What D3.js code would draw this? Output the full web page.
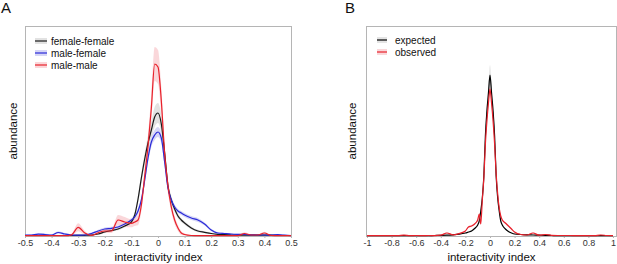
<!DOCTYPE html>
<html lang="en">
<head>
  <meta charset="UTF-8">
  <title>interactivity index - abundance</title>
  <script src="https://cdn.jsdelivr.net/npm/d3@7"></script>
  <style>
    body { margin: 0; background: #fff; }
    text { font-family: Arial, "Liberation Sans", sans-serif; fill: #111; }
    .tick text { font-size: 9px; fill: #333; }
    .tick line { stroke: #b5b5b5; }
    .frame { fill: none; stroke: #b5b5b5; stroke-width: 1px; }
    .line { fill: none; stroke-width: 1.2px; stroke-linejoin: round; }
    .axis-title { font-size: 11.5px; text-anchor: middle; }
    .legend text { font-size: 10px; }
    .panel-label { font-size: 15px; }
  </style>
</head>
<body>
  <svg width="617" height="264"></svg>
  <script>
    // panel A : x values (finer near the peak)
    var xA = [-0.5,-0.475,-0.45,-0.425,-0.4,-0.375,-0.35,-0.325,-0.3,-0.275,-0.25,-0.225,-0.2,-0.175,-0.15,-0.125,
              -0.1,-0.0875,-0.075,-0.0625,-0.05,-0.0375,-0.025,-0.0125,0,0.0125,0.025,0.0375,0.05,0.0625,0.075,0.0875,0.1,
              0.125,0.15,0.175,0.2,0.225,0.25,0.275,0.3,0.325,0.35,0.375,0.4,0.425,0.45,0.475,0.5];
    var femaleFemale = [0.5,0.5,0.5,0.5,0.5,0.5,0.5,0.5,0.6,0.7,1,2,4,5.5,7,10,
                        14,21,37,58,77,93,106,119,123,112,83,50,36,27,20,16,13,
                        8,5,3.7,2.5,1.7,1.3,1,0.8,0.8,0.8,0.8,0.8,0.8,0.6,0.5,0.5];
    var maleFemale = [0.8,1,1.8,1.5,1,3.5,2,1,0.8,1,2.5,5,7,7.7,9,12,
                      16,19,25,36,56,78,94,101,104,98,74,48,36,29,25,23,21,
                      18,16,12,6,3,2.5,2,1.7,1.5,1.2,1,1,0.8,1.3,0.8,0.3];
    var maleMale = [0.3,0.3,0.3,0.3,0.3,0.3,0.3,1.2,8.7,3,0.6,3.3,5,5,16,14,
                    12.7,14,16,31,60,90,128,172,169,135,82,50,29,16,8,3,1.5,
                    0.5,0.3,0.3,0.3,0.3,0.3,0.3,0.3,2.5,1,1,3,0.5,0.3,0.3,0.3];
    // half widths of the shaded bands
    var femaleFemaleErr = [0.5,0.5,0.5,0.5,0.5,0.5,0.5,0.5,0.5,0.5,0.6,0.8,1,1,1.2,1.5,
                           2,3,4,5,6,7,8,10,10,9,7,5,4,3,2.5,2,1.8,
                           1.5,1.2,1,0.8,0.6,0.5,0.5,0.5,0.5,0.5,0.5,0.5,0.5,0.5,0.5,0.5];
    var maleFemaleErr = [0.8,0.8,1,1,0.8,1.2,1,0.6,0.5,0.6,1,1.2,1.5,1.5,1.5,1.8,
                         2,2.5,3,3.5,4,4.5,5,5,5,5,4.5,4,3,2.5,2,2,2,
                         2,2,1.6,1.2,1,0.8,0.6,0.6,0.6,0.5,0.5,0.5,0.5,0.6,0.5,0.3];
    var maleMaleErr = [0.3,0.3,0.3,0.3,0.3,0.3,0.3,1,4,2,0.5,1.5,2,2,5,5,
                       4,4,5,6,8,11,14,17,17,14,10,7,5,4,3,2,1,
                       0.5,0.3,0.3,0.3,0.3,0.3,0.3,0.3,1.2,0.6,0.6,1.2,0.4,0.3,0.3,0.3];
    var ticksA = [-0.5,-0.4,-0.3,-0.2,-0.1,0,0.1,0.2,0.3,0.4,0.5];

    // panel B
    var xB = [-1,-0.95,-0.9,-0.85,-0.8,-0.75,-0.7,-0.65,-0.6,-0.55,-0.5,-0.45,-0.4,-0.35,-0.3,-0.25,-0.2,
              -0.175,-0.15,-0.125,
              -0.1,-0.0875,-0.075,-0.0625,-0.05,-0.0375,-0.025,-0.0125,0,0.0125,0.025,0.0375,0.05,0.0625,0.075,0.0875,0.1,
              0.125,0.15,0.175,
              0.2,0.25,0.3,0.35,0.4,0.45,0.5,0.55,0.6,0.65,0.7,0.75,0.8,0.85,0.9,0.95,1];
    var expected = [0.3,0.3,0.3,0.3,0.3,0.3,0.3,0.3,0.3,0.3,0.4,0.5,0.6,0.8,1.2,1.8,3,
                    4,5,7.5,
                    11,15,25,38,60,100,125,143,161,143,125,100,60,38,25,15,11,
                    7,4.5,3,
                    2,1.5,1.2,1,0.8,0.6,0.5,0.4,0.4,0.3,0.3,0.3,0.3,0.3,0.3,0.3,0.3];
    var observed = [0.3,0.3,0.3,0.3,0.4,0.3,0.8,0.4,0.5,0.4,0.5,0.4,0.8,3,1.2,2.5,5,
                    9,10,12,
                    16,22,12,36,58,92,115,133,147,133,115,92,62,42,28,20,16,
                    13,10,7,
                    4,1.5,1,3,0.8,1.5,0.6,0.5,0.5,0.5,0.4,0.4,0.4,0.4,1,0.5,0.4];
    var expectedErr = [0.3,0.3,0.3,0.3,0.3,0.3,0.3,0.3,0.3,0.3,0.3,0.3,0.3,0.3,0.3,0.3,0.3,
                       0.5,0.5,0.8,
                       1,1,2,3,4,6,8,9,10,9,8,6,4,3,2,1,1,
                       0.8,0.5,0.5,
                       0.3,0.3,0.3,0.3,0.3,0.3,0.3,0.3,0.3,0.3,0.3,0.3,0.3,0.3,0.3,0.3,0.3];
    var observedErr = [0.4,0.4,0.4,0.4,0.4,0.4,0.4,0.4,0.4,0.4,0.4,0.4,0.4,0.4,0.4,0.4,0.4,
                       1,1,1,
                       1,1.5,1,2,2,3,3,3,3,3,3,3,2,2,1.5,1,1,
                       1,1,1,
                       0.4,0.4,0.4,0.4,0.4,0.4,0.4,0.4,0.4,0.4,0.4,0.4,0.4,0.4,0.4,0.4,0.4];
    var ticksB = [-1,-0.8,-0.6,-0.4,-0.2,0,0.2,0.4,0.6,0.8,1];

    var svg = d3.select("svg");

    function panel(opts) {
      var g = svg.append("g");
      var x = d3.scaleLinear().domain(opts.xDomain).range([opts.left, opts.right]);
      var y = d3.scaleLinear().domain([0, 210]).range([opts.bottom, opts.top]);

      g.append("g")
       .attr("class", "axis")
       .attr("transform", "translate(0," + opts.bottom + ")")
       .call(d3.axisBottom(x).tickValues(opts.ticks).tickSize(2).tickPadding(2)
         .tickFormat(function(d) { return String(d); }))
       .call(function(a) { a.select(".domain").remove(); });

      g.append("rect")
       .attr("class", "frame")
       .attr("x", opts.frameLeft + 0.5).attr("y", opts.top + 0.5)
       .attr("width", opts.frameRight - opts.frameLeft - 1).attr("height", opts.bottom - opts.top);

      var area = d3.area()
        .curve(d3.curveMonotoneX)
        .x(function(d) { return x(d.x); })
        .y0(function(d) { return y(Math.max(0, d.v - d.e)); })
        .y1(function(d) { return y(d.v + d.e); });
      var line = d3.line()
        .curve(d3.curveMonotoneX)
        .x(function(d) { return x(d.x); })
        .y(function(d) { return y(d.v); });

      var series = opts.series.map(function(s) {
        return {
          color: s.color, band: s.band, name: s.name,
          pts: opts.xs.map(function(xv, i) { return {x: xv, v: s.values[i], e: s.err[i]}; })
        };
      });

      g.selectAll(".band").data(series).enter().append("path")
       .attr("class", "band")
       .attr("fill", function(d) { return d.band; })
       .attr("fill-opacity", 0.7)
       .attr("d", function(d) { return area(d.pts); });

      g.selectAll(".line").data(series).enter().append("path")
       .attr("class", "line")
       .style("stroke", function(d) { return d.color; })
       .attr("d", function(d) { return line(d.pts); });

      // legend
      var lg = g.selectAll(".legend").data(series).enter().append("g")
        .attr("class", "legend")
        .attr("transform", function(d, i) { return "translate(" + opts.legendX + "," + (opts.legendY + i * 12) + ")"; });
      lg.append("rect")
        .attr("x", 0).attr("y", -3).attr("width", opts.legendW).attr("height", 6)
        .attr("fill", function(d) { return d.band; }).attr("fill-opacity", 0.7);
      lg.append("line")
        .attr("x1", 0).attr("x2", opts.legendW)
        .attr("stroke", function(d) { return d.color; }).attr("stroke-width", 1.2);
      lg.append("text")
        .attr("x", opts.legendText).attr("dy", "0.35em")
        .text(function(d) { return d.name; });

      g.append("text").attr("class", "axis-title")
       .attr("x", (opts.frameLeft + opts.frameRight) / 2).attr("y", 261)
       .text("interactivity index");
      g.append("text").attr("class", "axis-title")
       .attr("transform", "translate(" + opts.yTitleX + "," + ((opts.top + opts.bottom) / 2) + ") rotate(-90)")
       .text("abundance");
      g.append("text").attr("class", "panel-label")
       .attr("x", opts.labelX).attr("y", 13)
       .text(opts.label);
    }

    panel({
      label: "A", labelX: 1, yTitleX: 17,
      xDomain: [-0.5, 0.5], left: 25, right: 291, frameLeft: 25, frameRight: 292, top: 26, bottom: 236,
      ticks: ticksA, xs: xA,
      legendX: 35, legendY: 41, legendW: 12, legendText: 16,
      series: [
        {name: "female-female", values: femaleFemale, err: femaleFemaleErr, color: "#1a1a1a", band: "#d6d6d6"},
        {name: "male-female", values: maleFemale, err: maleFemaleErr, color: "#2a2ad8", band: "#c4c4f2"},
        {name: "male-male", values: maleMale, err: maleMaleErr, color: "#e8212b", band: "#f8c6cb"}
      ]
    });

    panel({
      label: "B", labelX: 345, yTitleX: 356,
      xDomain: [-1, 1], left: 367, right: 613, frameLeft: 366, frameRight: 617, top: 26, bottom: 236,
      ticks: ticksB, xs: xB,
      legendX: 377, legendY: 40, legendW: 10, legendText: 18,
      series: [
        {name: "expected", values: expected, err: expectedErr, color: "#000000", band: "#d9d9d9"},
        {name: "observed", values: observed, err: observedErr, color: "#e8212b", band: "#f8c6cb"}
      ]
    });
  </script>
</body>
</html>
